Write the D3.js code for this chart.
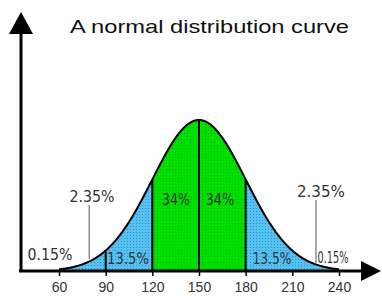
<!DOCTYPE html>
<html lang="en">
<head>
  <meta charset="UTF-8">
  <title>A normal distribution curve</title>
  <script src="https://d3js.org/d3.v7.min.js"></script>
  <style>
    body { margin: 0; background: #fff; }
    .tick-label { font: 14px "Liberation Sans", Arial, sans-serif; fill: #333; }
    .pct { font: 15px "DejaVu Sans Condensed", "Liberation Sans Narrow", sans-serif; fill: #333; }
  </style>
</head>
<body>
  <svg width="382" height="296"></svg>

  <script>
    // chart values
    const mean = 150, sd = 30;
    const tickValues = [60, 90, 120, 150, 180, 210, 240];
    const bandEdges = [60, 120, 180, 240];           // blue | green | blue
    const bandColors = ["blue", "green", "blue"];
    const dividers = [90, 120, 150, 180];            // vertical lines down to the axis
    const bandLabels = ["13.5%", "34%", "34%", "13.5%"];
    const bandLabelAt = [104.4, 135.2, 163.5, 196.9];
    const tailLabels = ["0.15%", "2.35%", "2.35%", "0.15%"];
    const tailLabelAt = [54.2, 81.2, 228.4, 236.1];
    const leaderAt = [79.4, 225.2];

    const svg = d3.select("svg");
    const base = 271;

    const x = d3.scaleLinear().domain([60, 240]).range([59, 339]);
    const pdf = v => Math.exp(-0.5 * ((v - mean) / sd) ** 2) / (sd * Math.sqrt(2 * Math.PI));
    const y = d3.scaleLinear().domain([0, pdf(mean)]).range([base, 120]);

    // dotted fills, like the old gif
    const defs = svg.append("defs");
    const pat = (id, bg, dot) => {
      const p = defs.append("pattern").attr("id", id)
        .attr("width", 3).attr("height", 3).attr("patternUnits", "userSpaceOnUse");
      p.append("rect").attr("width", 3).attr("height", 3).attr("fill", bg);
      p.append("rect").attr("x", 1).attr("y", 1).attr("width", 1).attr("height", 1).attr("fill", dot);
    };
    pat("blue", "#55c2f2", "#2f8fd0");
    pat("green", "#00e000", "#00b800");

    const area = d3.area().x(d => x(d)).y0(base).y1(d => y(pdf(d)));
    bandColors.forEach((c, i) => {
      const pts = d3.range(bandEdges[i], bandEdges[i + 1] + 0.01, 0.5);
      svg.append("path").attr("d", area(pts)).attr("fill", `url(#${c})`);
    });

    // curve
    const line = d3.line().x(d => x(d)).y(d => y(pdf(d)));
    svg.append("path")
      .attr("d", line(d3.range(bandEdges[0], bandEdges[3] + 0.01, 0.5)))
      .attr("fill", "none").attr("stroke", "#000").attr("stroke-width", 2);

    // dividers
    svg.append("g").selectAll("line").data(dividers).join("line")
      .attr("x1", d => x(d)).attr("x2", d => x(d))
      .attr("y1", d => y(pdf(d))).attr("y2", base)
      .attr("stroke", "#000").attr("stroke-width", 2);

    // tail leader lines
    svg.append("g").selectAll("line").data(leaderAt).join("line")
      .attr("x1", d => x(d)).attr("x2", d => x(d))
      .attr("y1", (d, i) => i ? 200 : 205).attr("y2", (d, i) => i ? 263 : 259)
      .attr("stroke", "#555").attr("stroke-width", 1);

    // axes
    svg.append("line").attr("x1", 19).attr("x2", 366).attr("y1", base).attr("y2", base)
      .attr("stroke", "#000").attr("stroke-width", 3);
    svg.append("path").attr("d", `M381,${base} L361,${base - 10} L361,${base + 10} Z`).attr("fill", "#000");
    svg.append("line").attr("x1", 21).attr("x2", 21).attr("y1", 30).attr("y2", base + 1)
      .attr("stroke", "#000").attr("stroke-width", 3);
    svg.append("path").attr("d", "M21,12 L9,34 L33,34 Z").attr("fill", "#000");

    const xAxis = d3.axisBottom(x).tickValues(tickValues).tickSize(5).tickPadding(6);
    const gx = svg.append("g").attr("transform", `translate(0,${base})`).call(xAxis);
    gx.select(".domain").remove();
    gx.selectAll(".tick line").attr("stroke", "#000").attr("stroke-width", 1.5);
    gx.selectAll(".tick text").attr("class", "tick-label");

    // labels
    svg.append("text").attr("x", 70).attr("y", 33)
      .style("font", "19px 'Liberation Sans', Arial, sans-serif").attr("fill", "#111")
      .attr("textLength", 279).attr("lengthAdjust", "spacingAndGlyphs")
      .text("A normal distribution curve");

    const bandY = [264, 205, 205, 264];
    const bandW = [42, 28, 29, 39];
    svg.append("g").selectAll("text").data(bandLabels).join("text")
      .attr("class", "pct").attr("text-anchor", "middle")
      .attr("x", (d, i) => x(bandLabelAt[i])).attr("y", (d, i) => bandY[i])
      .attr("textLength", (d, i) => bandW[i]).attr("lengthAdjust", "spacingAndGlyphs")
      .text(d => d);

    const tailY = [260, 202, 197, 263];
    const tailW = [45, 45, 48, 31];
    svg.append("g").selectAll("text").data(tailLabels).join("text")
      .attr("class", "pct").attr("text-anchor", "middle")
      .attr("x", (d, i) => x(tailLabelAt[i])).attr("y", (d, i) => tailY[i])
      .attr("textLength", (d, i) => tailW[i]).attr("lengthAdjust", "spacingAndGlyphs")
      .text(d => d);
  </script>
</body>
</html>
